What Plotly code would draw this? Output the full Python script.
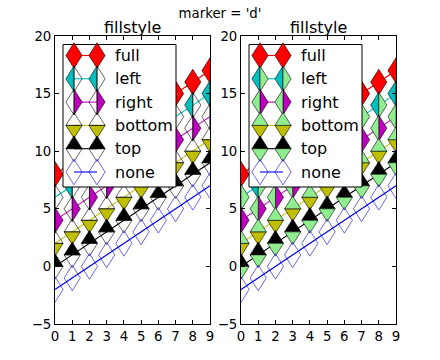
import plotly.graph_objects as go

# ---------------- data ----------------
x_vals = [0, 1, 2, 3, 4, 5, 6, 7, 8, 9]
fillstyles = ['full', 'left', 'right', 'bottom', 'top', 'none']
y_full = [8, 9, 10, 11, 12, 13, 14, 15, 16, 17]
y_left = [6, 7, 8, 9, 10, 11, 12, 13, 14, 15]
y_right = [4, 5, 6, 7, 8, 9, 10, 11, 12, 13]
y_bottom = [2, 3, 4, 5, 6, 7, 8, 9, 10, 11]
y_top = [0, 1, 2, 3, 4, 5, 6, 7, 8, 9]
y_none = [-2, -1, 0, 1, 2, 3, 4, 5, 6, 7]
series_y = [y_full, y_left, y_right, y_bottom, y_top, y_none]
colors = ['#ff0000', '#00bfbf', '#bf00bf', '#bfbf00', '#000000', '#0000ff']
alt_colors = [None, '#90ee90']          # left panel: no alt fill, right: lightgreen
x_ticks = [0, 1, 2, 3, 4, 5, 6, 7, 8, 9]
y_ticks = [-5, 0, 5, 10, 15, 20]
x_range = [0, 9]
y_range = [-5, 20]
panel_title = 'fillstyle'
suptitle = "marker = 'd'"

# ---------------- layout geometry ----------------
FIG_W, FIG_H = 440, 360
ML, MR, MT, MB = 55, 44, 36, 36
PW = FIG_W - ML - MR      # 341
PH = FIG_H - MT - MB      # 288
AX_W = 155.0
GAP = PW - 2 * AX_W
dom1 = [0, AX_W / PW]
dom2 = [(AX_W + GAP) / PW, 1]

HW_PX = 8.1    # half width of thin diamond marker (px)
HH_PX = 12.8   # half height (px)
EDGE_W = 0.6
FONT = 'DejaVu Sans'


def diamond_parts(cx, cy, hw, hh, style, up=1):
    """Return (filled polygon, alt polygon) vertex lists for a thin diamond."""
    top = (cx, cy + up * hh)
    bot = (cx, cy - up * hh)
    lef = (cx - hw, cy)
    rig = (cx + hw, cy)
    if style in ('full', 'none'):
        return [top, rig, bot, lef, top], None
    if style == 'left':
        return [top, lef, bot, top], [top, rig, bot, top]
    if style == 'right':
        return [top, rig, bot, top], [top, lef, bot, top]
    if style == 'bottom':
        return [lef, bot, rig, lef], [lef, top, rig, lef]
    if style == 'top':
        return [lef, top, rig, lef], [lef, bot, rig, lef]


def collect(xs, ys, hw, hh, style, up=1):
    fx, fy, ax_, ay = [], [], [], []
    for cx, cy in zip(xs, ys):
        f, a = diamond_parts(cx, cy, hw, hh, style, up)
        for px, py in f:
            fx.append(px); fy.append(py)
        fx.append(None); fy.append(None)
        if a is not None:
            for px, py in a:
                ax_.append(px); ay.append(py)
            ax_.append(None); ay.append(None)
    return fx, fy, ax_, ay


def add_series(fig, xs, ys, style, color, alt, xa, ya, hw, hh, up=1, line_w=1.1):
    fig.add_trace(go.Scatter(x=xs, y=ys, mode='lines', xaxis=xa, yaxis=ya,
                             line=dict(color=color, width=line_w), hoverinfo='skip'))
    fx, fy, axx, ayy = collect(xs, ys, hw, hh, style, up)
    if style == 'none':
        fig.add_trace(go.Scatter(x=fx, y=fy, mode='lines', xaxis=xa, yaxis=ya,
                                 line=dict(color=color, width=EDGE_W), hoverinfo='skip'))
        return
    fig.add_trace(go.Scatter(x=fx, y=fy, mode='lines', fill='toself', fillcolor=color,
                             xaxis=xa, yaxis=ya,
                             line=dict(color='black', width=EDGE_W), hoverinfo='skip'))
    if axx:
        if alt is None:
            fig.add_trace(go.Scatter(x=axx, y=ayy, mode='lines', xaxis=xa, yaxis=ya,
                                     line=dict(color='black', width=EDGE_W), hoverinfo='skip'))
        else:
            fig.add_trace(go.Scatter(x=axx, y=ayy, mode='lines', fill='toself', fillcolor=alt,
                                     xaxis=xa, yaxis=ya,
                                     line=dict(color='black', width=EDGE_W), hoverinfo='skip'))


fig = go.Figure()

hw_data = HW_PX * (x_range[1] - x_range[0]) / AX_W
hh_data = HH_PX * (y_range[1] - y_range[0]) / PH

panels = [('x', 'y', 'x3', 'y3'), ('x2', 'y2', 'x4', 'y4')]

# data traces
for p, (xa, ya, lxa, lya) in enumerate(panels):
    for style, ys, col in zip(fillstyles, series_y, colors):
        add_series(fig, x_vals, ys, style, col, alt_colors[p], xa, ya, hw_data, hh_data)

# legend (drawn on overlay axes in pixel units)
LEG_BOX = (8, 8.5, 121, 151)
ROW0, ROW_STEP = 19.5, 23.3
HANDLE_X = [19, 42]
TEXT_X = 58
annotations = []
for p, (xa, ya, lxa, lya) in enumerate(panels):
    x0, y0, x1, y1 = LEG_BOX
    fig.add_trace(go.Scatter(x=[x0, x1, x1, x0, x0], y=[y0, y0, y1, y1, y0], mode='lines',
                             fill='toself', fillcolor='white', xaxis=lxa, yaxis=lya,
                             line=dict(color='black', width=1), hoverinfo='skip'))
    for i, (style, col) in enumerate(zip(fillstyles, colors)):
        ry = ROW0 + i * ROW_STEP
        add_series(fig, HANDLE_X, [ry, ry], style, col, alt_colors[p], lxa, lya,
                   HW_PX, HH_PX, up=-1)
        annotations.append(dict(x=TEXT_X, y=ry, xref=lxa, yref=lya, text=style,
                                showarrow=False, xanchor='left', yanchor='middle',
                                font=dict(family=FONT, size=16, color='black')))
    annotations.append(dict(x=0.5, y=1, xref=xa + ' domain', yref=ya + ' domain',
                            text=panel_title, showarrow=False, xanchor='center',
                            yanchor='bottom', yshift=-3,
                            font=dict(family=FONT, size=16, color='black')))

axis_common = dict(showline=True, linecolor='black', linewidth=1, mirror='allticks',
                   ticks='inside', ticklen=4, tickwidth=0.6, tickcolor='black',
                   showgrid=False, zeroline=False,
                   tickfont=dict(family=FONT, size=13.3, color='black'))

fig.update_layout(
    width=FIG_W, height=FIG_H,
    margin=dict(l=ML, r=MR, t=MT, b=MB),
    paper_bgcolor='white', plot_bgcolor='white',
    showlegend=False,
    title=dict(text=suptitle, x=0.5, xanchor='center', y=1 - 13 / FIG_H, yanchor='middle',
               font=dict(family=FONT, size=13.3, color='black')),
    xaxis=dict(domain=dom1, range=x_range, tickvals=x_ticks, anchor='y', **axis_common),
    yaxis=dict(range=y_range, tickvals=y_ticks, anchor='x', **axis_common),
    xaxis2=dict(domain=dom2, range=x_range, tickvals=x_ticks, anchor='y2', **axis_common),
    yaxis2=dict(range=y_range, tickvals=y_ticks, anchor='x2', **axis_common),
    xaxis3=dict(overlaying='x', range=[0, AX_W], visible=False, anchor='y3'),
    yaxis3=dict(overlaying='y', range=[PH, 0], visible=False, anchor='x3'),
    xaxis4=dict(overlaying='x2', range=[0, AX_W], visible=False, anchor='y4'),
    yaxis4=dict(overlaying='y2', range=[PH, 0], visible=False, anchor='x4'),
    annotations=annotations,
)

fig.write_html('out.html', config={'displayModeBar': False},
               post_script="document.body.style.margin='0';")
